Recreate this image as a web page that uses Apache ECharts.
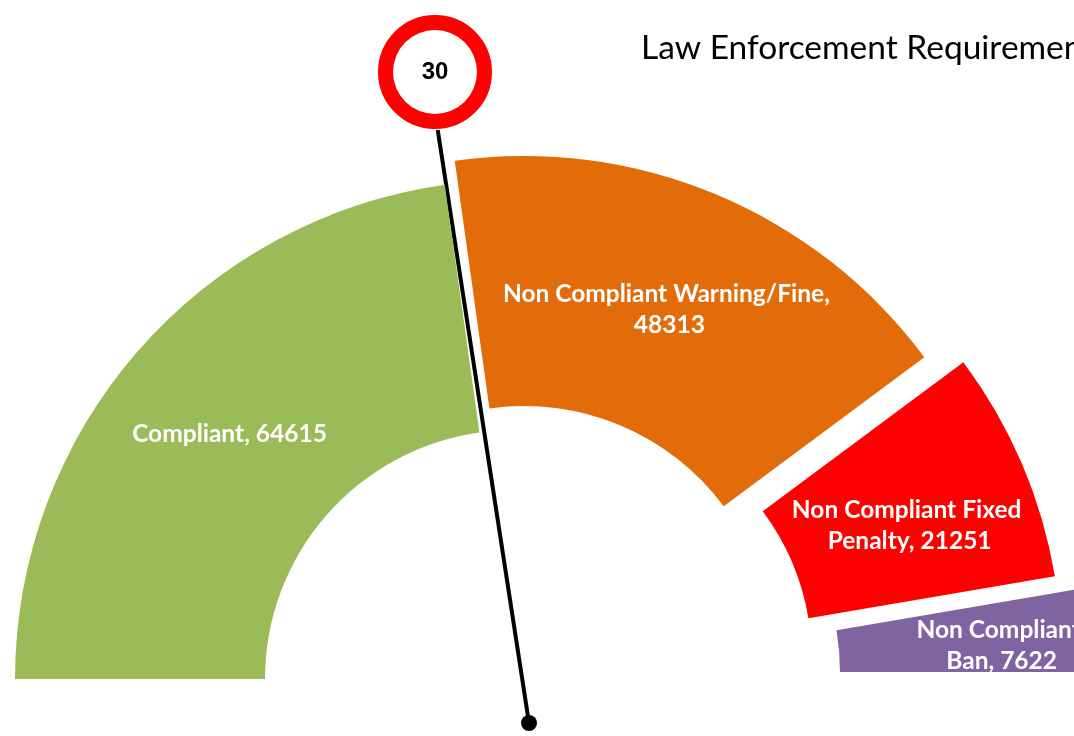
<!DOCTYPE html>
<html>
<head>
<meta charset="utf-8">
<script src="https://cdn.jsdelivr.net/npm/echarts@6/dist/echarts.min.js"></script>
<style>
    html, body { margin: 0; padding: 0; background: #fff; }
    #main { width: 1074px; height: 736px; }
</style>
</head>
<body>
<div id="main"></div>
<script>
(function () {
    "use strict";

    var categories = ['Compliant', 'Non Compliant Warning/Fine', 'Non Compliant Fixed Penalty', 'Non Compliant Ban'];
    var values = [64615, 48313, 21251, 7622];
    var needleValue = 30;

    var colors = ['#9BBB59', '#E36C0A', '#FF0000', '#8064A2'];
    // each slice is pulled out a bit differently
    var centers = [[514, 679], [524, 655], [563, 660], [591, 672]];
    var labelWidths = [300, 360, 250, 170];
    var labelOffsets = [[0, 2], [0, 2], [0, 14], [32, 5]];

    var myChart = echarts.init(document.getElementById('main'));

    var total = values.reduce(function (a, b) { return a + b; }, 0);
    var series = [];
    var cum = 0;

    categories.forEach(function (name, i) {
        var start = 180 - cum / total * 180;
        cum += values[i];
        series.push({
            type: 'pie',
            center: centers[i],
            radius: [249, 499],
            startAngle: start,
            clockwise: true,
            silent: true,
            animation: false,
            avoidLabelOverlap: false,
            label: {
                show: true,
                position: 'inside',
                color: '#fff',
                fontFamily: 'Lato',
                fontWeight: 'bold',
                fontSize: 24.5,
                lineHeight: 31,
                width: labelWidths[i],
                overflow: 'break',
                offset: labelOffsets[i],
                formatter: '{b}, {c}'
            },
            labelLine: { show: false },
            data: [
                { name: name, value: values[i], itemStyle: { color: colors[i] } },
                { name: '', value: total * 2 - values[i], itemStyle: { color: 'rgba(0,0,0,0)' }, label: { show: false } }
            ]
        });
    });

    // needle
    series.push({
        type: 'gauge',
        center: [529, 723],
        radius: 600,
        startAngle: 152.75,
        endAngle: -27.25,
        min: 0,
        max: 100,
        animation: false,
        silent: true,
        axisLine: { show: false },
        splitLine: { show: false },
        axisTick: { show: false },
        axisLabel: { show: false },
        pointer: {
            icon: 'rect',
            width: 4,
            length: '100%',
            itemStyle: { color: '#000' }
        },
        anchor: {
            show: true,
            showAbove: true,
            size: 16,
            itemStyle: { color: '#000' }
        },
        title: { show: false },
        detail: {
            offsetCenter: [-94, -651],
            width: 84,
            height: 84,
            lineHeight: 84,
            padding: 0,
            borderRadius: 50,
            borderWidth: 15,
            borderColor: '#FF0000',
            backgroundColor: '#fff',
            color: '#000',
            fontFamily: 'Liberation Sans',
            fontWeight: 'bold',
            fontSize: 24,
            formatter: '{value}'
        },
        data: [{ value: needleValue }]
    });

    var option = {
        backgroundColor: '#fff',
        title: {
            text: 'Law Enforcement Requirements',
            left: 636,
            top: 26,
            textStyle: {
                fontFamily: 'Lato',
                fontWeight: 'normal',
                fontSize: 33.5,
                color: '#000'
            }
        },
        series: series
    };

    myChart.setOption(option);
})();
</script>
</body>
</html>
